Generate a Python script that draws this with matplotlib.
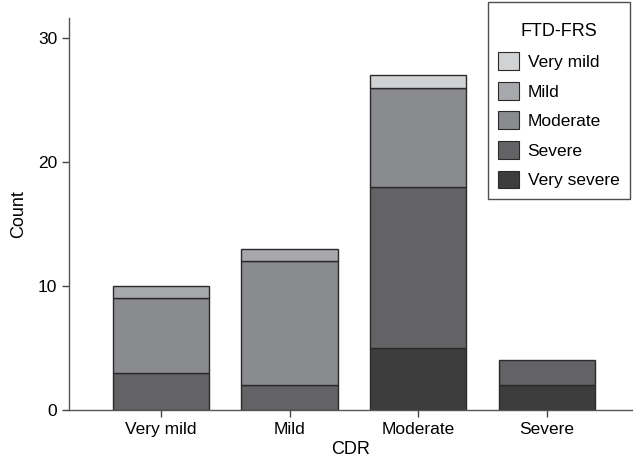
import numpy as np
import matplotlib
matplotlib.use("Agg")
import matplotlib.pyplot as plt
from matplotlib.patches import Patch

plt.rcParams['font.family'] = ['Liberation Sans', 'DejaVu Sans']

# CDR categories on the x axis
cdr = ["Very mild", "Mild", "Moderate", "Severe"]

# FTD-FRS counts per CDR category (stacked bottom to top)
very_severe = [0, 0, 5, 2]
severe = [3, 2, 13, 2]
moderate = [6, 10, 8, 0]
mild = [1, 1, 0, 0]
very_mild = [0, 0, 1, 0]

stack = [
    ("Very severe", very_severe, "#3d3d3d"),
    ("Severe", severe, "#636365"),
    ("Moderate", moderate, "#8a8b8f"),
    ("Mild", mild, "#a7a8ab"),
    ("Very mild", very_mild, "#d1d2d4"),
]

fig = plt.figure(figsize=(6.33, 4.66), dpi=100)
ax = fig.add_axes([0.109, 0.120, 0.891, 0.841])

x = np.arange(len(cdr))
bottom = np.zeros(len(cdr))
for name, vals, col in stack:
    vals = np.array(vals, dtype=float)
    keep = vals > 0  # skip empty segments so no stray edge lines
    ax.bar(x[keep], vals[keep], width=0.75, bottom=bottom[keep], color=col,
           edgecolor="#2a2a2a", linewidth=1.0)
    bottom += vals

ax.set_xlim(-0.715, 3.67)
ax.set_ylim(0, 31.6)
ax.set_yticks([0, 10, 20, 30])
ax.set_xticks(x)
ax.set_xticklabels(cdr)
ax.tick_params(axis="both", labelsize=12.5, color="#444444", length=5, width=1)
ax.set_xlabel("CDR", fontsize=13, labelpad=3)
ax.set_ylabel("Count", fontsize=13, labelpad=8)

for s in ["top", "right"]:
    ax.spines[s].set_visible(False)
for s in ["left", "bottom"]:
    ax.spines[s].set_color("#555555")
    ax.spines[s].set_linewidth(1.0)

handles = [Patch(facecolor=col, edgecolor="#2a2a2a", linewidth=0.8, label=name)
           for name, vals, col in stack[::-1]]
leg = fig.legend(handles=handles, title="\nFTD-FRS", loc="upper right",
                 bbox_to_anchor=(0.995, 0.996), borderaxespad=0,
                 fontsize=12.5, title_fontsize=13,
                 frameon=True, fancybox=False, edgecolor="#222222",
                 handlelength=1.2, handleheight=1.2, labelspacing=0.68,
                 handletextpad=0.5, borderpad=0.6)
leg.get_title().set_linespacing(0.55)
leg.get_frame().set_linewidth(1.0)

fig.savefig("out.png", dpi=100)
